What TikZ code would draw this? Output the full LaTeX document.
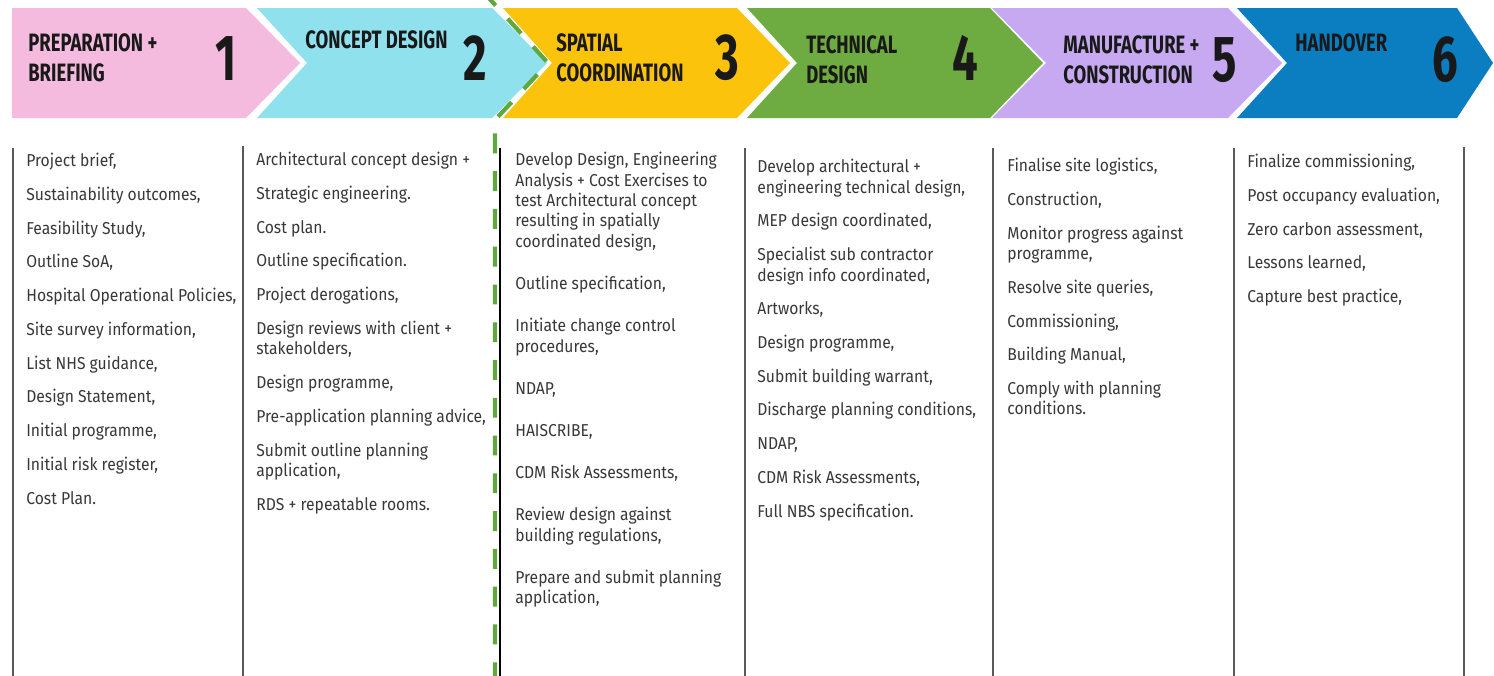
\documentclass[tikz,border=0pt]{standalone}
\usepackage{fontspec}
\setmainfont{Fira Sans}[FakeStretch=0.91]
\newfontfamily\headfont{Fira Sans}[FakeStretch=0.735]
\newfontfamily\numfont{Fira Sans}[FakeStretch=0.7]
\definecolor{prepink}{HTML}{F4BBDF}
\definecolor{conceptcyan}{HTML}{8FE1ED}
\definecolor{spatialyellow}{HTML}{FBC30C}
\definecolor{techgreen}{HTML}{6EAB40}
\definecolor{buildlilac}{HTML}{C6A9F1}
\definecolor{handblue}{HTML}{0B7EC1}
\definecolor{gatedash}{HTML}{5FA83C}
\definecolor{bodygray}{HTML}{383838}
\newcommand{\nextitem}{\\[7.6pt]}
\newcommand{\wideitem}{\\[12.4pt]}

\begin{document}
\begin{tikzpicture}[x=0.02cm, y=-0.02cm,
  title/.style={anchor=north west, align=left, inner sep=0pt, text=black!90,
    font=\headfont\bfseries\fontsize{14.3}{17}\selectfont},
  stagenum/.style={inner sep=0pt, text=black!90, font=\numfont\bfseries\fontsize{37}{40}\selectfont},
  items/.style={anchor=north west, align=left, inner sep=0pt, text=bodygray,
    font=\fontsize{9.8}{11.6}\selectfont},
  rule/.style={draw=black!65, line width=1.2pt}]
\useasboundingbox (0,0) rectangle (1494,676);

% stage arrows
\fill[prepink](12,8)--(246,8)--(300,63)--(246,118)--(12,118)--cycle;
\fill[conceptcyan](257,8)--(492,8)--(547,63)--(492,118)--(257,118)--(307,63)--cycle;
\fill[spatialyellow](503,8)--(737,8)--(790,63)--(737,118)--(503,118)--(552,63)--cycle;
\fill[techgreen](747,8)--(990,8)--(1043,63)--(990,118)--(747,118)--(797,63)--cycle;
\fill[buildlilac](992,8)--(1228,8)--(1282,63)--(1228,118)--(992,118)--(1046,63)--cycle;
\fill[handblue](1237,8)--(1457,8)--(1493,63)--(1457,118)--(1237,118)--(1287,63)--cycle;

\node[title] (t1) at (28,33) {PREPARATION +\\BRIEFING};
\node[title] (t2) at (305,30) {CONCEPT DESIGN};
\node[title] (t3) at (556,33) {SPATIAL\\COORDINATION};
\node[title] (t4) at (806,35) {TECHNICAL\\DESIGN};
\node[title] (t5) at (1063,35) {MANUFACTURE +\\CONSTRUCTION};
\node[title] (t6) at (1295,33) {HANDOVER};

\node[stagenum] (n1) at (226,59) {1};
\node[stagenum] (n2) at (475,58) {2};
\node[stagenum] (n3) at (727,58) {3};
\node[stagenum] (n4) at (965,58) {4};
\node[stagenum] (n5) at (1225,60) {5};
\node[stagenum] (n6) at (1445,60) {6};

% gateway between 2 and 3
\draw[gatedash, line width=2.4pt, dash pattern=on 11.3pt off 10.2pt, dash phase=4pt]
  (487,-4)--(548,63)--(495,120)--(495,676);

% column rules
\draw[rule](13,148)--(13,676);
\draw[rule](243,146)--(243,676);
\draw[black, line width=0.9pt](500,148)--(500,676);
\draw[rule](745,148)--(745,676);
\draw[rule](993,148)--(993,676);
\draw[rule](1234,148)--(1234,676);
\draw[rule](1464,147)--(1464,676);

% stage tasks
\node[items] (prep) at (26,153) {Project brief,\nextitem Sustainability outcomes,\nextitem
  Feasibility Study,\nextitem Outline SoA,\nextitem Hospital Operational Policies,\nextitem
  Site survey information,\nextitem List NHS guidance,\nextitem Design Statement,\nextitem
  Initial programme,\nextitem Initial risk register,\nextitem Cost Plan.};
\node[items] (concept) at (256,152) {Architectural concept design +\nextitem
  Strategic engineering.\nextitem Cost plan.\nextitem Outline specification.\nextitem
  Project derogations,\nextitem Design reviews with client +\\stakeholders,\nextitem
  Design programme,\nextitem Pre-application planning advice,\nextitem
  Submit outline planning\\application,\nextitem RDS + repeatable rooms.};
\node[items] (spatial) at (515,152) {Develop Design, Engineering\\Analysis + Cost Exercises to\\
  test Architectural concept\\resulting in spatially\\coordinated design,\wideitem
  Outline specification,\wideitem Initiate change control\\procedures,\wideitem
  NDAP,\wideitem HAISCRIBE,\wideitem CDM Risk Assessments,\wideitem
  Review design against\\building regulations,\wideitem
  Prepare and submit planning\\application,};
\node[items] (technical) at (757,159) {Develop architectural +\\engineering technical design,\nextitem
  MEP design coordinated,\nextitem Specialist sub contractor\\design info coordinated,\nextitem
  Artworks,\nextitem Design programme,\nextitem Submit building warrant,\nextitem
  Discharge planning conditions,\nextitem NDAP,\nextitem CDM Risk Assessments,\nextitem
  Full NBS specification.};
\node[items] (build) at (1007,158) {Finalise site logistics,\nextitem Construction,\nextitem
  Monitor progress against\\programme,\nextitem Resolve site queries,\nextitem
  Commissioning,\nextitem Building Manual,\nextitem Comply with planning\\conditions.};
\node[items] (handover) at (1247,154) {Finalize commissioning,\nextitem
  Post occupancy evaluation,\nextitem Zero carbon assessment,\nextitem
  Lessons learned,\nextitem Capture best practice,};
\end{tikzpicture}
\end{document}
